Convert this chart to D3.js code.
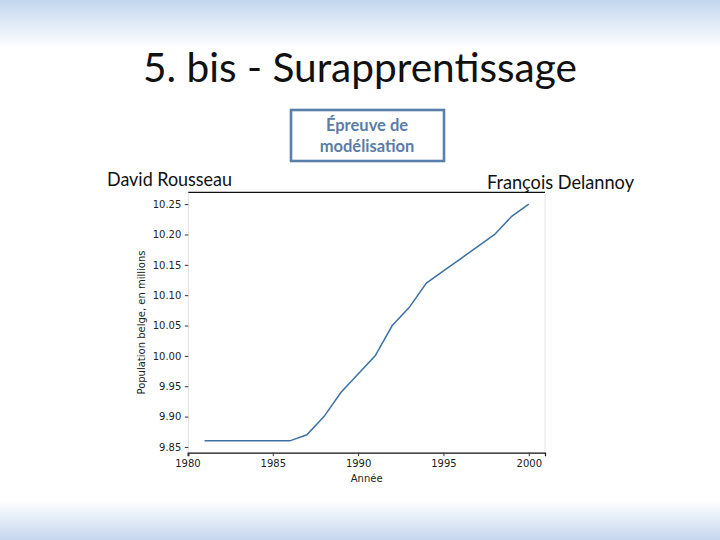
<!DOCTYPE html>
<meta charset="utf-8">
<style>
    body { margin: 0; background: white; }
    .slide-text { font-family: Lato, "Open Sans", sans-serif; }
    .tick text { font-family: "DejaVu Sans", sans-serif; font-size: 10px; fill: #222; }
    .tick line { stroke: #333; }
    .axis-label { font-family: "DejaVu Sans", sans-serif; font-size: 10px; fill: #222; }
</style>
<body>
<svg width="720" height="540"></svg>
<script src="https://d3js.org/d3.v7.min.js"></script>
<script>
    // chart data
    var years = [1981, 1982, 1983, 1984, 1985, 1986, 1987, 1988, 1989, 1990,
                 1991, 1992, 1993, 1994, 1995, 1996, 1997, 1998, 1999, 2000];
    var population = [9.86, 9.86, 9.86, 9.86, 9.86, 9.86, 9.87, 9.90, 9.94, 9.97,
                      10.00, 10.05, 10.08, 10.12, 10.14, 10.16, 10.18, 10.20, 10.23, 10.25];
    var xTicks = [1980, 1985, 1990, 1995, 2000];
    var yTicks = [9.85, 9.90, 9.95, 10.00, 10.05, 10.10, 10.15, 10.20, 10.25];

    var title = "5. bis - Surapprentissage";
    var boxLines = ["Épreuve de", "modélisation"];
    var leftName = "David Rousseau";
    var rightName = "François Delannoy";
    var xTitle = "Année";
    var yTitle = "Population belge, en millions";

    var svg = d3.select("svg");

    // background gradients (top and bottom bands)
    var defs = svg.append("defs");
    var gTop = defs.append("linearGradient").attr("id", "gradTop")
        .attr("x1", 0).attr("y1", 0).attr("x2", 0).attr("y2", 1);
    gTop.append("stop").attr("offset", "0%").attr("stop-color", "#c3d6ef");
    gTop.append("stop").attr("offset", "100%").attr("stop-color", "#ffffff");
    var gBot = defs.append("linearGradient").attr("id", "gradBot")
        .attr("x1", 0).attr("y1", 0).attr("x2", 0).attr("y2", 1);
    gBot.append("stop").attr("offset", "0%").attr("stop-color", "#ffffff");
    gBot.append("stop").attr("offset", "100%").attr("stop-color", "#c6d7ee");

    svg.append("rect").attr("x", 0).attr("y", 0).attr("width", 720).attr("height", 48)
        .attr("fill", "url(#gradTop)");
    svg.append("rect").attr("x", 0).attr("y", 500).attr("width", 720).attr("height", 40)
        .attr("fill", "url(#gradBot)");

    // title
    svg.append("text").attr("class", "slide-text")
        .attr("x", 360).attr("y", 82)
        .attr("text-anchor", "middle")
        .attr("font-size", "40px")
        .attr("fill", "#111")
        .attr("textLength", 434).attr("lengthAdjust", "spacingAndGlyphs")
        .text(title);

    // boxed label
    svg.append("rect")
        .attr("x", 291).attr("y", 110).attr("width", 153).attr("height", 51)
        .attr("fill", "none").attr("stroke", "#5b7fab").attr("stroke-width", 2.6);
    svg.selectAll(".boxline")
        .data(boxLines)
        .enter().append("text")
        .attr("class", "slide-text boxline")
        .attr("x", 367).attr("y", function(d, i) { return 131 + i * 21; })
        .attr("text-anchor", "middle")
        .attr("font-size", "16.5px").attr("font-weight", "bold")
        .attr("fill", "#5a7ca8")
        .text(function(d) { return d; });

    // author names
    svg.append("text").attr("class", "slide-text")
        .attr("x", 107).attr("y", 186)
        .attr("font-size", "19px").attr("fill", "#111")
        .attr("textLength", 125).attr("lengthAdjust", "spacingAndGlyphs")
        .text(leftName);
    svg.append("text").attr("class", "slide-text")
        .attr("x", 487).attr("y", 189)
        .attr("font-size", "19px").attr("fill", "#111")
        .attr("textLength", 147).attr("lengthAdjust", "spacingAndGlyphs")
        .text(rightName);

    // plot area (matplotlib style, 5% margins)
    var plotLeft = 188.3, plotRight = 545, plotTop = 192.3, plotBottom = 452.7;
    var xExt = d3.extent(years), yExt = d3.extent(population);
    var xPad = (xExt[1] - xExt[0]) * 0.05, yPad = (yExt[1] - yExt[0]) * 0.05;
    var x = d3.scaleLinear().domain([xExt[0] - xPad, xExt[1] + xPad]).range([plotLeft, plotRight]);
    var y = d3.scaleLinear().domain([yExt[0] - yPad, yExt[1] + yPad]).range([plotBottom, plotTop]);

    svg.append("rect")
        .attr("x", plotLeft).attr("y", plotTop)
        .attr("width", plotRight - plotLeft).attr("height", plotBottom - plotTop)
        .attr("fill", "white");

    // side spines light, top/bottom dark
    svg.append("line").attr("x1", plotLeft).attr("x2", plotLeft).attr("y1", plotTop).attr("y2", plotBottom)
        .attr("stroke", "#e2e2e2");
    svg.append("line").attr("x1", plotRight).attr("x2", plotRight).attr("y1", plotTop).attr("y2", plotBottom)
        .attr("stroke", "#e2e2e2");
    svg.append("line").attr("x1", plotLeft).attr("x2", plotRight).attr("y1", plotTop).attr("y2", plotTop)
        .attr("stroke", "#111").attr("stroke-width", 1.2);

    var xAxis = svg.append("g")
        .attr("transform", "translate(0," + plotBottom + ")")
        .call(d3.axisBottom(x).tickValues(xTicks).tickFormat(d3.format("d"))
            .tickSize(3.5).tickPadding(3.5));
    xAxis.select(".domain").attr("stroke", "#111").attr("stroke-width", 1.2);

    var yAxis = svg.append("g")
        .attr("transform", "translate(" + plotLeft + ",0)")
        .call(d3.axisLeft(y).tickValues(yTicks).tickFormat(d3.format(".2f"))
            .tickSize(3.5).tickPadding(3.5));
    yAxis.select(".domain").remove();
    yAxis.selectAll(".tick line").attr("stroke", "#bbb");

    // the series
    var line = d3.line()
        .x(function(d, i) { return x(years[i]); })
        .y(function(d) { return y(d); });
    svg.append("path")
        .datum(population)
        .attr("fill", "none")
        .attr("stroke", "#3b72a3")
        .attr("stroke-width", 1.5)
        .attr("d", line);

    // axis titles
    svg.append("text").attr("class", "axis-label")
        .attr("x", (plotLeft + plotRight) / 2).attr("y", 482)
        .attr("text-anchor", "middle")
        .text(xTitle);
    svg.append("text").attr("class", "axis-label")
        .attr("transform", "translate(145," + (plotTop + plotBottom) / 2 + ") rotate(-90)")
        .attr("text-anchor", "middle")
        .text(yTitle);
</script>
</body>
